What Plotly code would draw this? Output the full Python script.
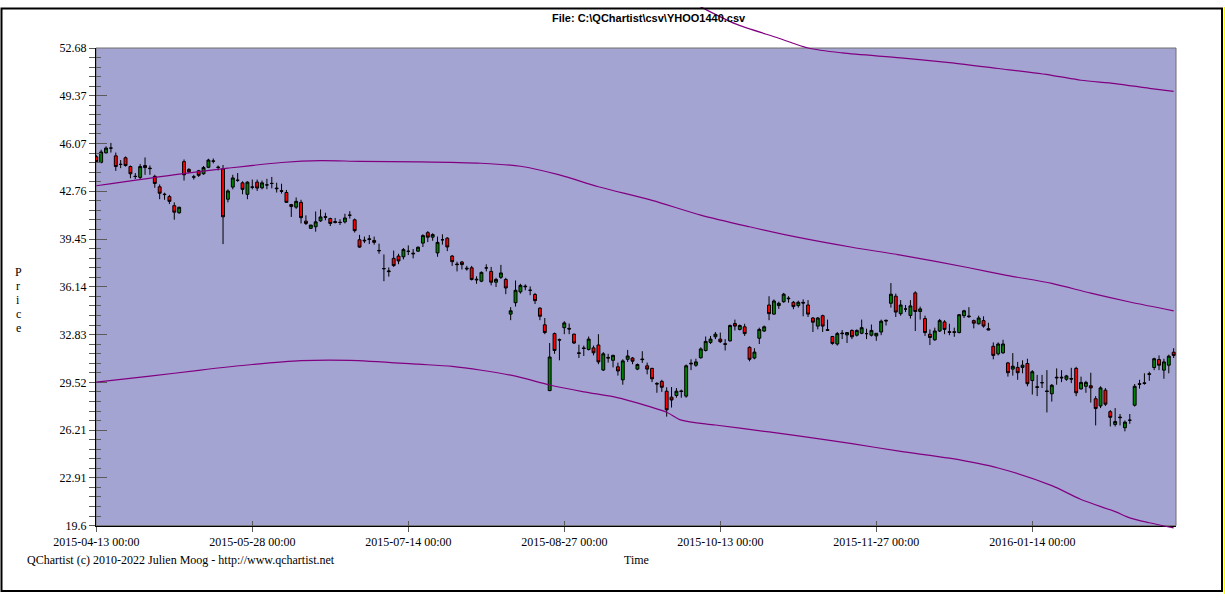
import plotly.graph_objects as go

# ---------------- data ----------------
opens = [45.15, 44.76, 45.42, 45.75, 45.21, 44.62, 45.08, 44.47, 43.80, 43.72,
         44.54, 44.36, 43.79, 43.07, 42.56, 42.39, 41.76, 41.27, 44.81, 44.27,
         43.76, 44.18, 43.97, 44.42, 44.86, 44.43, 44.31, 42.21, 43.05, 43.52,
         43.34, 42.55, 43.06, 43.39, 43.00, 43.20, 43.30, 42.98, 42.80, 42.67,
         41.84, 41.66, 41.99, 40.69, 40.19, 40.30, 40.71, 41.00, 40.87, 40.66,
         40.60, 40.64, 41.10, 40.78, 39.40, 39.37, 39.42, 39.35, 38.66, 37.40,
         37.19, 38.11, 38.27, 38.22, 38.60, 38.47, 38.61, 39.17, 39.89, 39.58,
         38.49, 39.40, 39.51, 38.27, 37.72, 37.86, 37.43, 37.46, 36.67, 36.53,
         37.45, 37.21, 36.46, 36.80, 36.65, 34.25, 35.04, 35.79, 36.19, 35.90,
         35.61, 34.66, 33.51, 28.95, 32.90, 32.49, 33.31, 33.26, 32.86, 31.57,
         31.91, 31.80, 31.91, 32.11, 30.38, 31.25, 31.05, 30.60, 29.70, 31.12,
         31.21, 30.44, 31.14, 30.67, 30.49, 29.45, 29.59, 28.91, 28.50, 28.61,
         28.93, 28.57, 30.85, 30.71, 31.23, 31.73, 32.29, 32.68, 32.52, 32.20,
         32.40, 33.60, 33.19, 33.37, 31.95, 31.21, 32.58, 33.08, 34.88, 34.25,
         34.84, 35.11, 35.36, 35.07, 34.84, 35.06, 34.88, 33.98, 33.42, 34.14,
         33.17, 32.70, 32.18, 32.94, 32.81, 33.12, 32.79, 32.92, 32.90, 32.79,
         32.74, 33.01, 33.82, 35.00, 35.49, 34.28, 34.60, 34.16, 35.72, 34.43,
         33.94, 32.86, 32.47, 33.08, 33.71, 33.03, 33.03, 32.97, 34.14, 34.12,
         33.80, 33.58, 33.80, 33.24, 32.02, 31.50, 31.57, 30.87, 30.44, 30.56,
         30.56, 30.83, 29.65, 29.22, 29.50, 28.93, 28.73, 29.88, 29.88, 29.74,
         29.79, 30.49, 29.07, 29.25, 29.29, 28.39, 27.89, 28.98, 27.49, 26.61,
         27.12, 26.38, 26.90, 27.94, 29.43, 29.49, 30.12, 30.55, 31.10, 30.37,
         30.71, 31.61]
highs = [45.26, 45.64, 45.87, 46.11, 45.44, 44.92, 45.17, 44.54, 44.02, 44.65,
         45.10, 44.54, 43.90, 43.23, 42.66, 42.51, 41.99, 41.69, 44.96, 44.36,
         43.90, 44.24, 44.51, 45.01, 45.03, 44.54, 44.58, 42.89, 43.90, 44.02,
         43.45, 43.45, 43.57, 43.57, 43.50, 43.62, 43.75, 43.35, 43.28, 42.85,
         41.88, 42.33, 42.17, 41.09, 40.42, 41.36, 41.50, 41.27, 40.93, 40.91,
         40.82, 41.20, 41.38, 40.87, 39.74, 39.62, 39.73, 39.62, 39.13, 38.38,
         37.48, 38.65, 38.43, 38.83, 39.01, 38.76, 38.94, 39.78, 40.00, 39.85,
         39.62, 39.78, 39.58, 38.34, 37.88, 37.93, 37.59, 37.59, 36.87, 37.21,
         37.70, 37.52, 36.76, 37.66, 36.76, 34.73, 36.58, 36.35, 36.31, 36.17,
         35.72, 34.73, 33.98, 32.25, 32.97, 32.56, 33.76, 33.60, 32.90, 32.13,
         32.07, 32.70, 32.07, 32.86, 31.62, 31.50, 31.44, 30.89, 31.12, 31.77,
         31.28, 30.83, 31.68, 30.89, 30.53, 29.54, 29.70, 29.18, 29.20, 29.13,
         29.02, 30.76, 31.12, 31.16, 31.95, 32.70, 32.74, 33.01, 32.97, 32.52,
         33.53, 33.87, 33.53, 33.58, 32.02, 31.89, 33.31, 33.46, 35.49, 35.27,
         35.11, 35.72, 35.49, 35.16, 35.18, 35.27, 35.22, 34.05, 34.05, 34.21,
         33.87, 32.74, 33.01, 33.15, 33.01, 33.19, 33.19, 33.87, 33.24, 33.53,
         32.92, 33.87, 33.87, 36.40, 35.67, 35.22, 34.88, 35.22, 35.83, 34.77,
         34.14, 33.19, 33.31, 33.92, 33.83, 33.58, 33.31, 34.25, 34.55, 34.73,
         33.87, 34.14, 34.10, 33.65, 32.29, 32.29, 32.47, 30.94, 31.55, 30.94,
         31.05, 31.16, 30.37, 30.04, 30.04, 30.37, 29.41, 30.49, 30.37, 30.04,
         30.53, 30.60, 29.92, 29.63, 30.19, 28.57, 29.25, 29.13, 27.60, 27.74,
         27.33, 26.88, 27.33, 29.41, 29.70, 30.15, 30.26, 31.23, 31.39, 31.16,
         31.44, 31.89]
lows = [44.74, 44.69, 45.37, 45.44, 44.17, 44.36, 44.47, 43.66, 43.61, 43.61,
        43.90, 43.90, 43.00, 42.21, 42.17, 41.87, 40.79, 41.20, 43.50, 44.02,
        43.57, 43.75, 43.90, 44.36, 44.69, 44.20, 39.10, 41.99, 42.89, 43.41,
        42.55, 42.21, 42.89, 42.78, 42.89, 42.90, 42.96, 42.67, 42.60, 41.95,
        40.98, 41.54, 40.53, 40.42, 40.16, 39.96, 40.64, 40.75, 40.35, 40.53,
        40.42, 40.53, 40.87, 39.90, 38.84, 39.17, 39.10, 39.06, 38.43, 36.53,
        36.85, 37.52, 37.71, 38.04, 38.34, 38.11, 38.56, 38.90, 39.24, 39.33,
        38.22, 39.06, 38.61, 37.59, 37.21, 37.34, 37.26, 36.58, 36.35, 36.46,
        37.21, 36.24, 36.13, 36.69, 35.63, 33.83, 34.77, 35.67, 35.90, 35.56,
        34.95, 33.83, 32.86, 28.92, 31.50, 31.05, 32.86, 32.86, 32.18, 31.21,
        31.35, 31.73, 31.39, 30.78, 30.31, 30.89, 30.56, 29.99, 29.36, 30.94,
        30.78, 30.37, 30.87, 30.08, 29.54, 28.80, 28.86, 27.15, 27.78, 28.46,
        28.46, 28.46, 30.37, 30.60, 31.16, 31.66, 32.18, 32.52, 32.25, 31.73,
        32.34, 33.12, 33.12, 32.74, 30.98, 31.12, 32.18, 33.01, 33.83, 34.21,
        34.61, 35.04, 35.04, 34.59, 34.70, 34.10, 34.05, 33.01, 33.19, 33.01,
        33.08, 32.13, 32.07, 32.52, 32.25, 32.52, 32.70, 32.86, 32.52, 32.70,
        32.40, 32.79, 33.46, 34.70, 34.05, 34.14, 34.39, 33.94, 33.08, 33.87,
        32.74, 32.11, 32.40, 33.01, 32.86, 32.79, 32.68, 32.92, 33.98, 33.98,
        33.26, 33.53, 33.31, 33.15, 31.12, 31.39, 31.50, 29.92, 29.99, 29.70,
        30.15, 29.25, 28.68, 28.57, 29.13, 27.44, 28.19, 29.36, 29.54, 29.63,
        29.47, 28.57, 29.02, 28.80, 28.12, 26.54, 27.74, 27.89, 26.47, 26.47,
        26.54, 26.13, 26.65, 27.85, 29.09, 29.36, 29.63, 30.37, 30.37, 29.77,
        30.15, 31.21]
closes = [44.81, 45.48, 45.75, 45.75, 44.47, 44.62, 44.54, 43.97, 43.78, 44.47,
          44.40, 44.33, 43.30, 42.62, 42.53, 42.06, 41.31, 41.65, 43.90, 44.11,
          43.74, 43.86, 44.40, 44.92, 44.84, 44.41, 40.99, 42.78, 43.68, 43.52,
          42.89, 43.39, 43.04, 42.98, 43.34, 43.20, 43.30, 42.94, 42.76, 41.99,
          41.70, 42.06, 40.93, 40.53, 40.42, 40.64, 40.98, 40.96, 40.53, 40.60,
          40.60, 40.91, 41.10, 40.03, 38.89, 39.33, 39.46, 39.22, 38.64, 37.40,
          37.23, 37.61, 37.93, 38.72, 38.60, 38.43, 38.88, 39.69, 39.58, 39.76,
          39.22, 39.40, 38.90, 37.88, 37.68, 37.68, 37.39, 36.65, 36.63, 37.14,
          37.45, 36.46, 36.65, 37.10, 36.06, 34.48, 35.90, 36.24, 36.15, 35.90,
          35.18, 34.10, 32.97, 31.28, 31.73, 32.45, 33.64, 33.22, 32.25, 31.53,
          31.87, 32.52, 31.57, 30.94, 31.50, 31.21, 31.39, 30.31, 31.01, 31.35,
          30.99, 30.76, 31.10, 30.44, 29.77, 29.41, 29.18, 27.62, 28.30, 28.91,
          28.89, 30.67, 30.81, 30.94, 31.84, 32.36, 32.52, 32.86, 32.34, 32.16,
          33.46, 33.42, 33.46, 32.90, 31.12, 31.62, 33.19, 33.37, 34.28, 35.16,
          35.00, 35.63, 35.32, 34.77, 35.07, 35.02, 34.25, 33.69, 33.98, 33.42,
          33.13, 32.22, 32.90, 32.90, 32.97, 32.68, 33.12, 33.31, 32.90, 33.12,
          32.92, 33.76, 33.78, 35.63, 34.39, 34.88, 34.60, 34.82, 34.43, 34.61,
          32.97, 32.63, 33.08, 33.80, 33.19, 32.99, 32.99, 34.21, 34.48, 34.08,
          33.62, 33.98, 33.42, 33.15, 31.39, 32.18, 32.18, 30.19, 30.64, 30.19,
          30.71, 29.43, 30.26, 29.18, 29.50, 28.89, 29.32, 29.84, 29.84, 29.97,
          29.75, 28.80, 29.52, 29.52, 29.14, 27.71, 29.14, 28.01, 27.10, 26.81,
          27.08, 26.77, 26.90, 29.25, 29.39, 29.45, 30.08, 31.16, 30.71, 30.94,
          31.34, 31.39]
bar_index = list(range(len(opens)))

x_tick_index = [0, 32, 64, 96, 128, 160, 192]
x_tick_labels = ["2015-04-13 00:00", "2015-05-28 00:00", "2015-07-14 00:00",
                 "2015-08-27 00:00", "2015-10-13 00:00", "2015-11-27 00:00",
                 "2016-01-14 00:00"]
y_tick_labels = ["19.6", "22.91", "26.21", "29.52", "32.83", "36.14", "39.45",
                 "42.76", "46.07", "49.37", "52.68"]

# three channel lines (sampled bar index, price)
upper_idx = [122, 124, 131, 140, 146, 153, 165, 175, 185, 196, 202, 209, 216, 221]
upper_val = [55.86, 55.52, 54.37, 53.36, 52.68, 52.34, 52.00, 51.67, 51.26, 50.79,
             50.45, 50.22, 49.89, 49.68]
mid_idx = [0, 17, 27, 38, 46, 54, 66, 79, 87, 95, 103, 114, 124, 134, 144, 155,
           165, 179, 187, 196, 204, 212, 221]
mid_val = [43.14, 43.95, 44.36, 44.75, 44.88, 44.83, 44.80, 44.70, 44.49, 43.89,
           43.07, 42.13, 41.11, 40.30, 39.56, 38.88, 38.34, 37.46, 36.92, 36.38,
           35.70, 35.09, 34.48]
low_idx = [0, 11, 21, 32, 42, 52, 66, 73, 79, 86, 93, 100, 106, 110, 117, 120, 127,
           138, 144, 155, 165, 175, 185, 196, 202, 209, 212, 216, 221]
low_val = [29.54, 29.95, 30.36, 30.76, 31.03, 31.05, 30.78, 30.63, 30.36, 29.95,
           29.34, 28.87, 28.53, 28.19, 27.45, 26.91, 26.57, 26.09, 25.82, 25.28,
           24.74, 24.27, 23.59, 22.37, 21.41, 20.57, 20.14, 19.80, 19.44]

# ---------------- layout geometry ----------------
W, H = 1225, 601
PL, PR, PT, PB = 96, 1176, 42, 531          # plot area in pixels
YMIN, YMAX = float(y_tick_labels[0]), float(y_tick_labels[-1])
PX_PER_BAR = 4.875
X0 = -0.06
X1 = X0 + (PR - PL) / PX_PER_BAR
s = (YMAX - YMIN) / (PB - PT)                # price per pixel
y_full_range = [YMIN - s * (H - PB), YMAX + s * PT]


def px2x(px):
    return (px - PL) / (PR - PL)


def py2y(py):
    return (H - py) / H


y_tick_values = [float(v) for v in y_tick_labels]
step = (YMAX - YMIN) / (len(y_tick_labels) - 1)
minor_vals = [YMIN + k * step / 5 for k in range((len(y_tick_labels) - 1) * 5 + 1) if k % 5]

SERIF = "Liberation Serif"
SANS = "Liberation Sans"
BAND = "#800080"

fig = go.Figure()

fig.add_trace(go.Candlestick(
    x=bar_index, open=opens, high=highs, low=lows, close=closes,
    increasing=dict(fillcolor="#008000", line=dict(color="black", width=1)),
    decreasing=dict(fillcolor="#FF0000", line=dict(color="black", width=1)),
    whiskerwidth=0, hoverinfo="skip", showlegend=False,
))

for xi, yv in ((upper_idx, upper_val), (mid_idx, mid_val), (low_idx, low_val)):
    fig.add_trace(go.Scatter(
        x=xi, y=yv, xaxis="x", yaxis="y2", mode="lines",
        line=dict(color=BAND, width=1.2, shape="spline", smoothing=0.8),
        hoverinfo="skip", showlegend=False,
    ))

# invisible helper trace so the overlay tick axes are drawn
fig.add_trace(go.Scatter(x=bar_index, y=closes, xaxis="x2", yaxis="y3", mode="lines",
                         line=dict(width=0), opacity=0, hoverinfo="skip", showlegend=False))

tick_col = "#5a5a5a"
fig.update_layout(
    width=W, height=H, autosize=False,
    margin=dict(l=PL, r=W - PR, t=0, b=0, pad=0),
    paper_bgcolor="white", plot_bgcolor="rgba(0,0,0,0)",
    showlegend=False, boxgap=0.15,
    font=dict(family=SERIF, size=12, color="black"),
    xaxis=dict(range=[X0, X1], domain=[0, 1], anchor="y",
               tickmode="array", tickvals=x_tick_index, ticktext=x_tick_labels,
               ticks="outside", ticklen=5, tickcolor=tick_col, tickwidth=1,
               tickfont=dict(family=SERIF, size=12, color="black"),
               showline=True, linecolor="black", linewidth=1,
               showgrid=False, zeroline=False, rangeslider=dict(visible=False)),
    xaxis2=dict(range=[X0, X1], overlaying="x", anchor="y", side="bottom",
                tickmode="array", tickvals=x_tick_index, ticks="inside", ticklen=5,
                tickcolor=tick_col, showticklabels=False, showline=False,
                showgrid=False, zeroline=False),
    yaxis=dict(range=[YMIN, YMAX], domain=[py2y(PB), py2y(PT)], anchor="x",
               tickmode="array", tickvals=y_tick_values, ticktext=y_tick_labels,
               ticks="outside", ticklen=6, tickcolor=tick_col, tickwidth=1,
               tickfont=dict(family=SERIF, size=12, color="black"),
               minor=dict(tickmode="array", tickvals=minor_vals, ticks="outside",
                          ticklen=6, tickcolor=tick_col),
               showline=True, linecolor="black", linewidth=1,
               showgrid=False, zeroline=False),
    yaxis3=dict(range=[YMIN, YMAX], overlaying="y", anchor="x", side="left",
                tickmode="array", tickvals=y_tick_values, ticks="inside", ticklen=11,
                tickcolor=tick_col,
                minor=dict(tickmode="array", tickvals=minor_vals, ticks="inside",
                           ticklen=5, tickcolor=tick_col),
                showticklabels=False, showline=False, showgrid=False, zeroline=False),
    yaxis2=dict(range=y_full_range, domain=[0, 1], anchor="x", visible=False),
)

fig.add_shape(type="rect", xref="x domain", yref="y domain", x0=0, x1=1, y0=0, y1=1,
              fillcolor="#A4A4D2", line=dict(color="#6e6e6e", width=1), layer="below")
fig.add_shape(type="rect", xref="paper", yref="paper",
              x0=px2x(1.5), x1=px2x(1222), y0=py2y(598), y1=py2y(1.5),
              line=dict(color="black", width=2), fillcolor="rgba(0,0,0,0)", layer="above")
fig.add_shape(type="line", xref="paper", yref="paper",
              x0=px2x(1224.5), x1=px2x(1224.5), y0=0, y1=1,
              line=dict(color="#FFFF00", width=1), layer="above")

fig.add_annotation(text="<b>File: C:\\QChartist\\csv\\YHOO1440.csv</b>",
                   xref="paper", yref="paper", x=px2x(649), y=py2y(11),
                   xanchor="center", yanchor="middle", showarrow=False,
                   font=dict(family=SANS, size=11, color="black"))
fig.add_annotation(text="QChartist (c) 2010-2022 Julien Moog - http://www.qchartist.net",
                   xref="paper", yref="paper", x=px2x(25), y=py2y(566),
                   xanchor="left", yanchor="middle", showarrow=False,
                   font=dict(family=SERIF, size=12, color="black"))
fig.add_annotation(text="Time", xref="paper", yref="paper", x=px2x(636), y=py2y(566),
                   xanchor="center", yanchor="middle", showarrow=False,
                   font=dict(family=SERIF, size=12, color="black"))
for k, ch in enumerate("Price"):
    fig.add_annotation(text=ch, xref="paper", yref="paper", x=px2x(18),
                       y=py2y(271 + 14.5 * k), xanchor="center", yanchor="middle",
                       showarrow=False, font=dict(family=SERIF, size=12, color="black"))

# pin the figure to the top-left corner of the page (no default body margin)
pin_js = ("document.body.style.margin='0';document.body.style.overflow='hidden';"
          "var d=document.getElementById('{plot_id}');d.style.position='fixed';"
          "d.style.left='0px';d.style.top='0px';")
fig.write_html("out.html", post_script=pin_js,
               config={"staticPlot": True, "displayModeBar": False})
